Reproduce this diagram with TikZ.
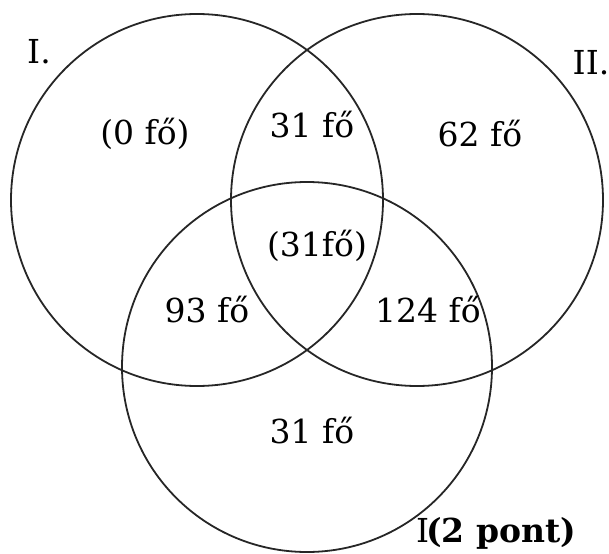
\documentclass[tikz,border=0pt]{standalone}
\usepackage{fontspec}
\setmainfont{DejaVu Serif}
\begin{document}
\begin{tikzpicture}[x=1pt,y=-1pt,
  setc/.style={draw=black!85, line width=1.8pt, circle, minimum size=372pt, inner sep=0pt},
  lbl/.style={inner sep=0pt, font=\fontsize{33}{38}\selectfont},
  setname/.style={inner sep=0pt, font=\fontsize{33}{38}\selectfont}]
\useasboundingbox (0,0) rectangle (609,553);
\node[setc] (cI) at (197,200) {};
\node[setc] (cII) at (417,200) {};
\node[setc, minimum size=370pt] (cIII) at (307,367) {};
\node[setname] (nI) at (39,52) {I.};
\node[setname] (nII) at (591,63) {II.};
\node[lbl] (a) at (145,134) {(0 fő)};
\node[lbl] (ab) at (312,125) {31 fő};
\node[lbl] (b) at (480,134) {62 fő};
\node[lbl] (abc) at (317,246) {(31fő)};
\node[lbl] (ac) at (207,310) {93 fő};
\node[lbl] (bc) at (428,310) {124 fő};
\node[lbl] (c) at (312,431) {31 fő};
\node[lbl, anchor=west] (nIII) at (416,533) {I\hspace{-3pt}\textbf{(2 pont)}};
\end{tikzpicture}
\end{document}
